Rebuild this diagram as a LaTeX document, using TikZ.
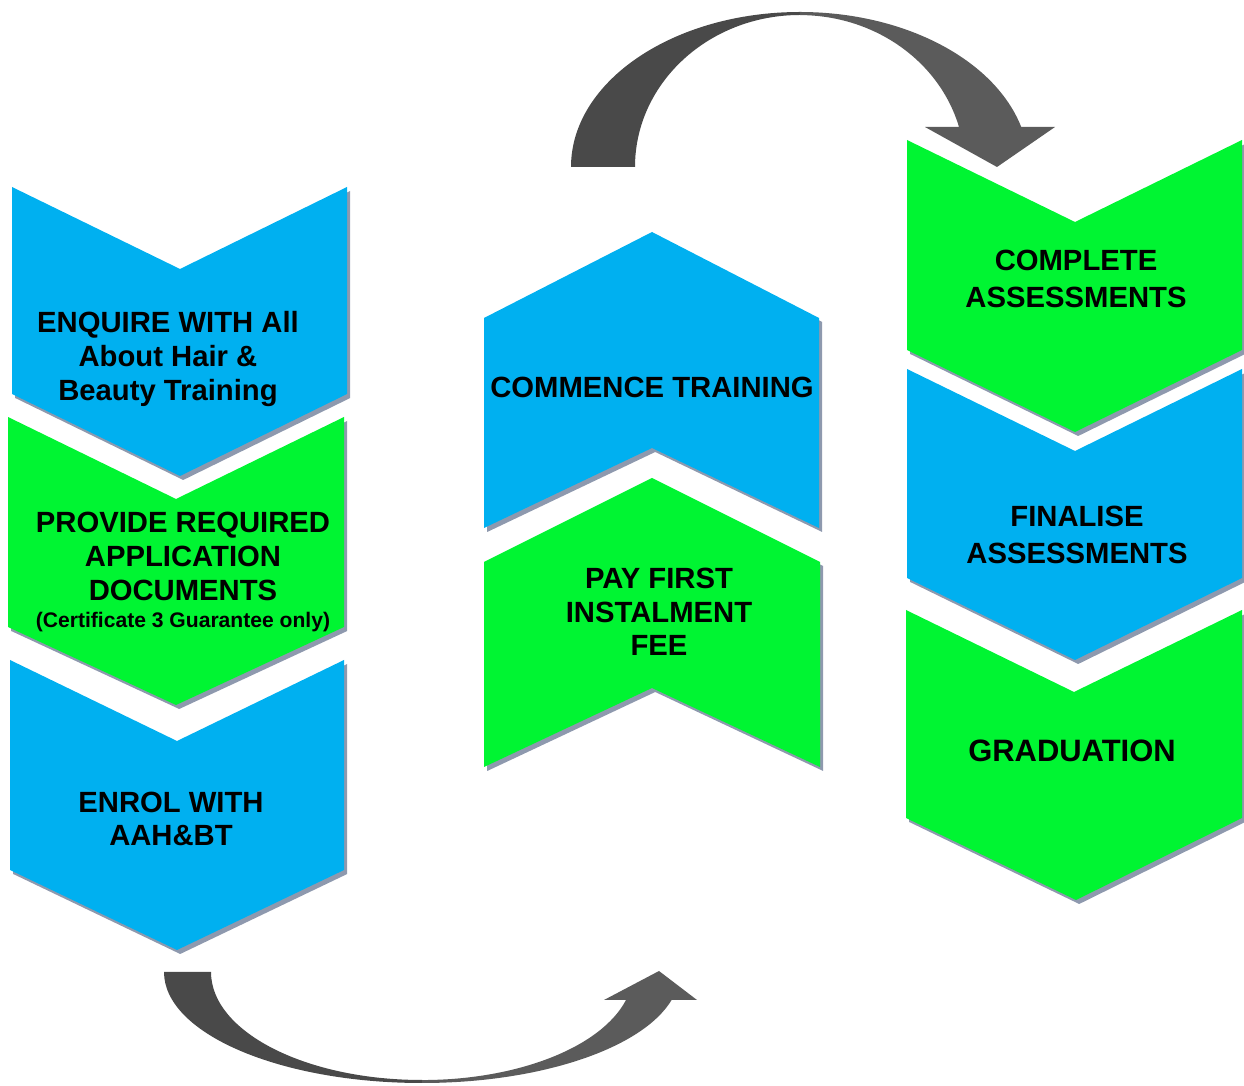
\documentclass[tikz,border=0pt]{standalone}
\usepackage{fontspec}
\setmainfont{Liberation Sans}
\usepackage{xcolor}
\usepackage{tikz}
\usetikzlibrary{shadows}
\definecolor{stepblue}{HTML}{00B0F0}
\definecolor{stepgreen}{HTML}{00F532}
\definecolor{shadowgrey}{HTML}{8E99AE}
\definecolor{arrowdark}{HTML}{494949}
\definecolor{arrowlight}{HTML}{5B5B5B}

\begin{document}
\begin{tikzpicture}[x=0.025cm, y=0.025cm,
    chev/.style={drop shadow={shadow xshift=0.08cm, shadow yshift=-0.1cm, fill=shadowgrey, opacity=1}},
    steptext/.style={font=\bfseries\fontsize{20.8}{24}\selectfont, align=center, inner sep=0pt}]
    \useasboundingbox (0,0) rectangle (1244,1086);

    % left column, pointing down
    \fill[stepblue, chev]  (12,899) -- (180,817) -- (347,899) -- (347,692) -- (180,610) -- (12,692) -- cycle;
    \fill[stepgreen, chev] (8,669) -- (176,587) -- (344,669) -- (344,459) -- (176,381) -- (8,459) -- cycle;
    \fill[stepblue, chev]  (10,426) -- (177,345) -- (344,426) -- (344,216) -- (177,136) -- (10,216) -- cycle;
    \node[steptext] (enquire) at (168, 727) {ENQUIRE WITH All\\About Hair \&\\Beauty Training};
    \node[steptext] (provide) at (183, 514) {PROVIDE REQUIRED\\APPLICATION\\DOCUMENTS\\[-5pt]
        {\fontsize{15}{18}\selectfont (Certificate 3 Guarantee only)}};
    \node[steptext] (enrol) at (171, 267) {ENROL WITH\\AAH\&BT};

    % middle column, pointing up
    \fill[stepblue, chev]  (484,768) -- (652,854) -- (819,768) -- (819,558) -- (652,638) -- (484,558) -- cycle;
    \fill[stepgreen, chev] (484,524) -- (652,608) -- (820,524) -- (820,319) -- (652,398) -- (484,319) -- cycle;
    \node[steptext] (commence) at (652, 699) {COMMENCE TRAINING};
    \node[steptext] (pay) at (659, 474) {PAY FIRST\\INSTALMENT\\FEE};

    % right column, pointing down
    \fill[stepgreen, chev] (907,946) -- (1075,864) -- (1242,946) -- (1242,736) -- (1075,654) -- (907,736) -- cycle;
    \fill[stepblue, chev]  (907,717) -- (1075,635) -- (1242,717) -- (1242,508) -- (1075,426) -- (907,508) -- cycle;
    \fill[stepgreen, chev] (906,476) -- (1074,394) -- (1242,476) -- (1242,268) -- (1076,186) -- (906,268) -- cycle;
    \node[steptext] (complete) at (1076, 807) {COMPLETE\\[2pt]ASSESSMENTS};
    \node[steptext] (finalise) at (1077, 551) {FINALISE\\[2pt]ASSESSMENTS};
    \node[steptext, font=\bfseries\fontsize{22}{26}\selectfont] (graduation) at (1072, 335) {GRADUATION};

    % curved arrow over the top
    \fill[arrowdark] (571,919) arc[start angle=180, end angle=90, x radius=229, y radius=155]
        -- (800,1071) arc[start angle=90, end angle=180, x radius=165, y radius=152] -- cycle;
    \fill[arrowlight] (800,1074) arc[start angle=90, end angle=15, x radius=229, y radius=155]
        -- (1055,959) -- (997,919) -- (925,959) -- (959,959)
        arc[start angle=15.3, end angle=90, x radius=165, y radius=152] -- cycle;

    % curved arrow underneath
    \fill[arrowdark] (164,114) arc[start angle=180, end angle=270, x radius=258, y radius=111]
        -- (422,6) arc[start angle=270, end angle=180, x radius=211, y radius=108] -- cycle;
    \fill[arrowlight] (422,3) arc[start angle=270, end angle=345.4, x radius=258, y radius=111]
        -- (697,86) -- (659,115) -- (604,86) -- (626,86)
        arc[start angle=345, end angle=270, x radius=211, y radius=108] -- cycle;
\end{tikzpicture}
\end{document}
